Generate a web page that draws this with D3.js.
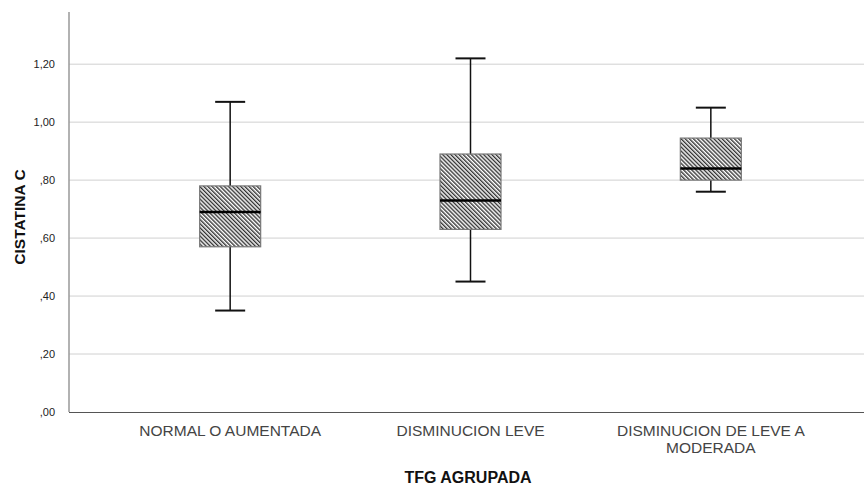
<!DOCTYPE html>
<html>
<head>
<meta charset="utf-8">
<script src="https://cdn.jsdelivr.net/npm/d3@7"></script>
<style>
  body { margin: 0; background: #fff; }
  svg { font-family: "Liberation Sans", Arial, sans-serif; }
</style>
</head>
<body>
<svg id="chart" width="864" height="489"></svg>
<script>
// data
const categories = ["NORMAL O AUMENTADA", "DISMINUCION LEVE", "DISMINUCION DE LEVE A MODERADA"];
const lowWhisker = [0.35, 0.45, 0.76];
const q1 = [0.57, 0.63, 0.80];
const medians = [0.69, 0.73, 0.84];
const q3 = [0.78, 0.89, 0.945];
const highWhisker = [1.07, 1.22, 1.05];
const yTicks = [0, 0.2, 0.4, 0.6, 0.8, 1.0, 1.2];

const svg = d3.select("#chart");
const plotLeft = 69, plotRight = 864, plotTop = 12, plotBottom = 412;

const x = d3.scaleBand()
  .domain(categories)
  .range([110, 831]);

const y = d3.scaleLinear()
  .domain([0, 1.38])
  .range([plotBottom, plotTop]);

const fmt = v => d3.format(".2f")(v).replace(/^0/, "").replace(".", ",");

// hatch pattern (\\\ lines, tight spacing)
const defs = svg.append("defs");
const pat = defs.append("pattern")
  .attr("id", "hatch")
  .attr("patternUnits", "userSpaceOnUse")
  .attr("width", 2.9).attr("height", 4)
  .attr("patternTransform", "rotate(-45)");
pat.append("rect").attr("width", 2.9).attr("height", 4).attr("fill", "#fff");
pat.append("line")
  .attr("x1", 0.7).attr("y1", 0).attr("x2", 0.7).attr("y2", 4)
  .attr("stroke", "#333").attr("stroke-width", 1.4);

// gridlines
svg.append("g")
  .selectAll("line")
  .data(yTicks.filter(d => d > 0))
  .join("line")
  .attr("x1", plotLeft).attr("x2", plotRight)
  .attr("y1", d => y(d)).attr("y2", d => y(d))
  .attr("stroke", "#d0d0d0").attr("stroke-width", 1);

// y axis
const yAxis = d3.axisLeft(y)
  .tickValues(yTicks)
  .tickSize(0)
  .tickPadding(14)
  .tickFormat(fmt);
const gy = svg.append("g")
  .attr("transform", `translate(${plotLeft},0)`)
  .call(yAxis);
gy.select(".domain").remove();
gy.selectAll("text").attr("font-size", 11).attr("fill", "#222").attr("font-family", "Liberation Sans, Arial, sans-serif");
svg.append("line")
  .attr("x1", plotLeft).attr("x2", plotLeft)
  .attr("y1", plotTop).attr("y2", plotBottom)
  .attr("stroke", "#999").attr("stroke-width", 1.5);

// x axis
svg.append("line")
  .attr("x1", plotLeft).attr("x2", plotRight)
  .attr("y1", plotBottom + 0.5).attr("y2", plotBottom + 0.5)
  .attr("stroke", "#555").attr("stroke-width", 1.2);

const xAxis = d3.axisBottom(x).tickSize(0).tickPadding(0);
const gx = svg.append("g")
  .attr("transform", `translate(0,${plotBottom})`)
  .call(xAxis);
gx.select(".domain").remove();
gx.selectAll("text").remove();
gx.selectAll(".tick").each(function (d) {
  const t = d3.select(this).append("text")
    .attr("text-anchor", "middle")
    .attr("font-size", 15.5)
    .attr("fill", "#444")
    .attr("font-family", "Liberation Sans, Arial, sans-serif");
  const lines = d === "DISMINUCION DE LEVE A MODERADA" ? ["DISMINUCION DE LEVE A", "MODERADA"] : [d];
  lines.forEach((ln, i) => {
    t.append("tspan").attr("x", 0).attr("y", 24 + i * 17).text(ln);
  });
});

// boxes
const bw = 61, cap = 30;
const g = svg.append("g");
categories.forEach((c, i) => {
  const cx = x(c) + x.bandwidth() / 2;
  g.append("line")
    .attr("x1", cx).attr("x2", cx)
    .attr("y1", y(highWhisker[i])).attr("y2", y(lowWhisker[i]))
    .attr("stroke", "#111").attr("stroke-width", 1.5);
  [highWhisker[i], lowWhisker[i]].forEach(v => {
    g.append("line")
      .attr("x1", cx - cap / 2).attr("x2", cx + cap / 2)
      .attr("y1", y(v)).attr("y2", y(v))
      .attr("stroke", "#111").attr("stroke-width", 2);
  });
  g.append("rect")
    .attr("x", cx - bw / 2).attr("width", bw)
    .attr("y", y(q3[i])).attr("height", y(q1[i]) - y(q3[i]))
    .attr("fill", "url(#hatch)")
    .attr("stroke", "#777").attr("stroke-width", 1.2);
  g.append("line")
    .attr("x1", cx - bw / 2).attr("x2", cx + bw / 2)
    .attr("y1", y(medians[i])).attr("y2", y(medians[i]))
    .attr("stroke", "#000").attr("stroke-width", 2.5);
});

// axis titles
svg.append("text")
  .attr("transform", `translate(25,${(plotTop + plotBottom) / 2 + 5}) rotate(-90)`)
  .attr("text-anchor", "middle")
  .attr("font-size", 15.5).attr("font-weight", "bold").attr("fill", "#111")
  .text("CISTATINA C");

svg.append("text")
  .attr("x", 468).attr("y", 483)
  .attr("text-anchor", "middle")
  .attr("font-size", 16).attr("font-weight", "bold").attr("fill", "#111")
  .text("TFG AGRUPADA");
</script>
</body>
</html>
